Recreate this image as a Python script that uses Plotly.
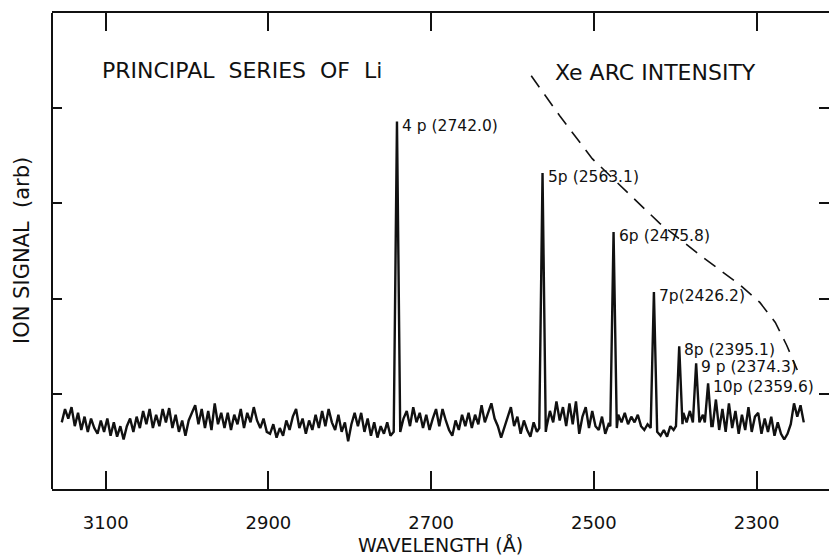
import numpy as np
import plotly.graph_objects as go

# ---------------- data ----------------
# Scan grid (wavelength in Angstrom, scanning from long to short wavelength)
WL_START = 3154.0
WL_STEP = 4.0

# Baseline ion signal (arb. units), one value per grid step
BASELINE = [
    0.70, 0.84, 0.74, 0.86, 0.66, 0.80, 0.62, 0.76, 0.60, 0.74,
    0.64, 0.58, 0.72, 0.60, 0.74, 0.56, 0.70, 0.55, 0.66, 0.52,
    0.66, 0.74, 0.60, 0.76, 0.64, 0.82, 0.68, 0.84, 0.64, 0.78,
    0.66, 0.84, 0.70, 0.85, 0.64, 0.78, 0.60, 0.72, 0.56, 0.72,
    0.80, 0.88, 0.68, 0.84, 0.64, 0.82, 0.62, 0.90, 0.68, 0.80,
    0.64, 0.80, 0.62, 0.78, 0.68, 0.84, 0.64, 0.80, 0.70, 0.86,
    0.72, 0.64, 0.74, 0.60, 0.58, 0.68, 0.54, 0.64, 0.56, 0.72,
    0.62, 0.76, 0.84, 0.64, 0.74, 0.58, 0.72, 0.62, 0.78, 0.64,
    0.82, 0.66, 0.84, 0.70, 0.62, 0.78, 0.60, 0.70, 0.50, 0.68,
    0.80, 0.66, 0.80, 0.60, 0.74, 0.56, 0.70, 0.54, 0.66, 0.58,
    0.70, 0.56, 0.64, 0.70, 0.58, 0.74, 0.82, 0.66, 0.86, 0.70,
    0.80, 0.64, 0.78, 0.62, 0.74, 0.84, 0.66, 0.84, 0.72, 0.62,
    0.56, 0.72, 0.62, 0.78, 0.66, 0.80, 0.64, 0.78, 0.68, 0.88,
    0.70, 0.80, 0.90, 0.74, 0.66, 0.54, 0.64, 0.76, 0.86, 0.66,
    0.76, 0.58, 0.72, 0.62, 0.55, 0.70, 0.60, 0.70, 0.68, 0.66,
    0.82, 0.70, 0.92, 0.72, 0.86, 0.66, 0.90, 0.68, 0.92, 0.58,
    0.76, 0.86, 0.64, 0.82, 0.66, 0.62, 0.76, 0.58, 0.68, 0.66,
    0.70, 0.78, 0.70, 0.80, 0.68, 0.76, 0.70, 0.78, 0.66, 0.62,
    0.68, 0.60, 0.66, 0.64, 0.56, 0.62, 0.55, 0.66, 0.62, 0.70,
    0.72, 0.80, 0.70, 0.82, 0.74, 0.72, 0.68, 0.78, 0.72, 0.70,
    0.66, 0.94, 0.62, 0.84, 0.60, 0.90, 0.64, 0.82, 0.58, 0.78,
    0.62, 0.86, 0.60, 0.76, 0.80, 0.58, 0.74, 0.60, 0.76, 0.56,
    0.70, 0.58, 0.52, 0.58, 0.68, 0.90, 0.76, 0.88, 0.70,
]

# Principal-series resonances of Li
PEAK_LABELS = ["4 p (2742.0)", "5p (2563.1)", "6p (2475.8)", "7p(2426.2)",
               "8p (2395.1)", "9 p (2374.3)", "10p (2359.6)"]
PEAK_WL = [2742.0, 2563.1, 2475.8, 2426.2, 2395.1, 2374.3, 2359.6]
PEAK_TOP = [3.86, 3.32, 2.70, 2.07, 1.50, 1.32, 1.11]
PEAK_FOOT_LONG = [0.60, 0.64, 0.66, 0.64, 0.66, 0.70, 0.70]   # long-wavelength side
PEAK_FOOT_SHORT = [0.60, 0.60, 0.64, 0.60, 0.68, 0.70, 0.66]  # short-wavelength side
PEAK_HALF_WIDTH = 4.0

# Xe arc lamp intensity (dashed curve)
XE_WL = [2577, 2542, 2502, 2462, 2419, 2370, 2320, 2296, 2277, 2263, 2250]
XE_INT = [4.34, 3.92, 3.47, 3.14, 2.79, 2.46, 2.14, 1.96, 1.75, 1.51, 1.25]

X_TICKS = [3100, 2900, 2700, 2500, 2300]
Y_TICKS = [1, 2, 3, 4]

# ---------------- build spectrum ----------------
base = np.array(BASELINE)
wl_grid = WL_START - WL_STEP * np.arange(len(base))
keep = np.ones(len(base), dtype=bool)
for p in PEAK_WL:
    keep &= np.abs(wl_grid - p) > PEAK_HALF_WIDTH + 0.5
pts = list(zip(wl_grid[keep], base[keep]))
for p, top, fl, fs in zip(PEAK_WL, PEAK_TOP, PEAK_FOOT_LONG, PEAK_FOOT_SHORT):
    pts += [(p + PEAK_HALF_WIDTH, fl), (p, top), (p - PEAK_HALF_WIDTH, fs)]
pts.sort(key=lambda t: -t[0])
spec_wl = [a for a, _ in pts]
spec_sig = [b for _, b in pts]

FONT = "DejaVu Sans"
INK = "#111111"

fig = go.Figure()
fig.add_trace(go.Scatter(x=spec_wl, y=spec_sig, mode="lines",
                         line=dict(color=INK, width=2.4), hoverinfo="skip"))
fig.add_trace(go.Scatter(x=XE_WL, y=XE_INT, mode="lines",
                         line=dict(color=INK, width=1.6, dash="14px,9px"),
                         hoverinfo="skip"))

for lab, p, top in zip(PEAK_LABELS, PEAK_WL, PEAK_TOP):
    fig.add_annotation(x=p, y=top, text=lab, showarrow=False, xanchor="left",
                       yanchor="middle", xshift=3, yshift=-4,
                       font=dict(family=FONT, size=15.5, color=INK))

fig.add_annotation(xref="paper", yref="paper", x=0.062, y=0.88,
                   text="PRINCIPAL  SERIES  OF  Li", showarrow=False,
                   xanchor="left", yanchor="middle",
                   font=dict(family=FONT, size=22, color=INK))
fig.add_annotation(xref="paper", yref="paper", x=0.645, y=0.874,
                   text="Xe ARC INTENSITY", showarrow=False,
                   xanchor="left", yanchor="middle",
                   font=dict(family=FONT, size=22, color=INK))
fig.add_annotation(xref="paper", yref="paper", x=0.5, y=0, yshift=-56,
                   text="WAVELENGTH (Å)", showarrow=False,
                   xanchor="center", yanchor="middle",
                   font=dict(family=FONT, size=19, color=INK))
fig.add_annotation(xref="paper", yref="paper", x=0, y=0.5, xshift=-30,
                   text="ION SIGNAL  (arb)", showarrow=False, textangle=-90,
                   xanchor="center", yanchor="middle",
                   font=dict(family=FONT, size=21, color=INK))

# left frame line
fig.add_shape(type="line", xref="paper", yref="paper", x0=0, x1=0, y0=0, y1=1,
              line=dict(color=INK, width=2))

fig.update_xaxes(range=[3166, 2211], tickvals=X_TICKS, ticktext=[str(v) for v in X_TICKS],
                 ticks="inside", ticklen=18, tickwidth=1.5, tickcolor=INK,
                 showline=True, linewidth=2, linecolor=INK, mirror="ticks",
                 showgrid=False, zeroline=False, ticklabelstandoff=16,
                 tickfont=dict(family=FONT, size=18, color=INK))
fig.update_yaxes(range=[0, 5], tickvals=Y_TICKS, showticklabels=False,
                 ticks="inside", ticklen=10, tickwidth=1.5, tickcolor=INK,
                 showline=False, mirror="ticks",
                 showgrid=False, zeroline=False)
fig.update_layout(width=829, height=556, margin=dict(l=52, r=0, t=13, b=67),
                  plot_bgcolor="white", paper_bgcolor="white", showlegend=False,
                  hovermode=False)

fig.write_html("out.html")
